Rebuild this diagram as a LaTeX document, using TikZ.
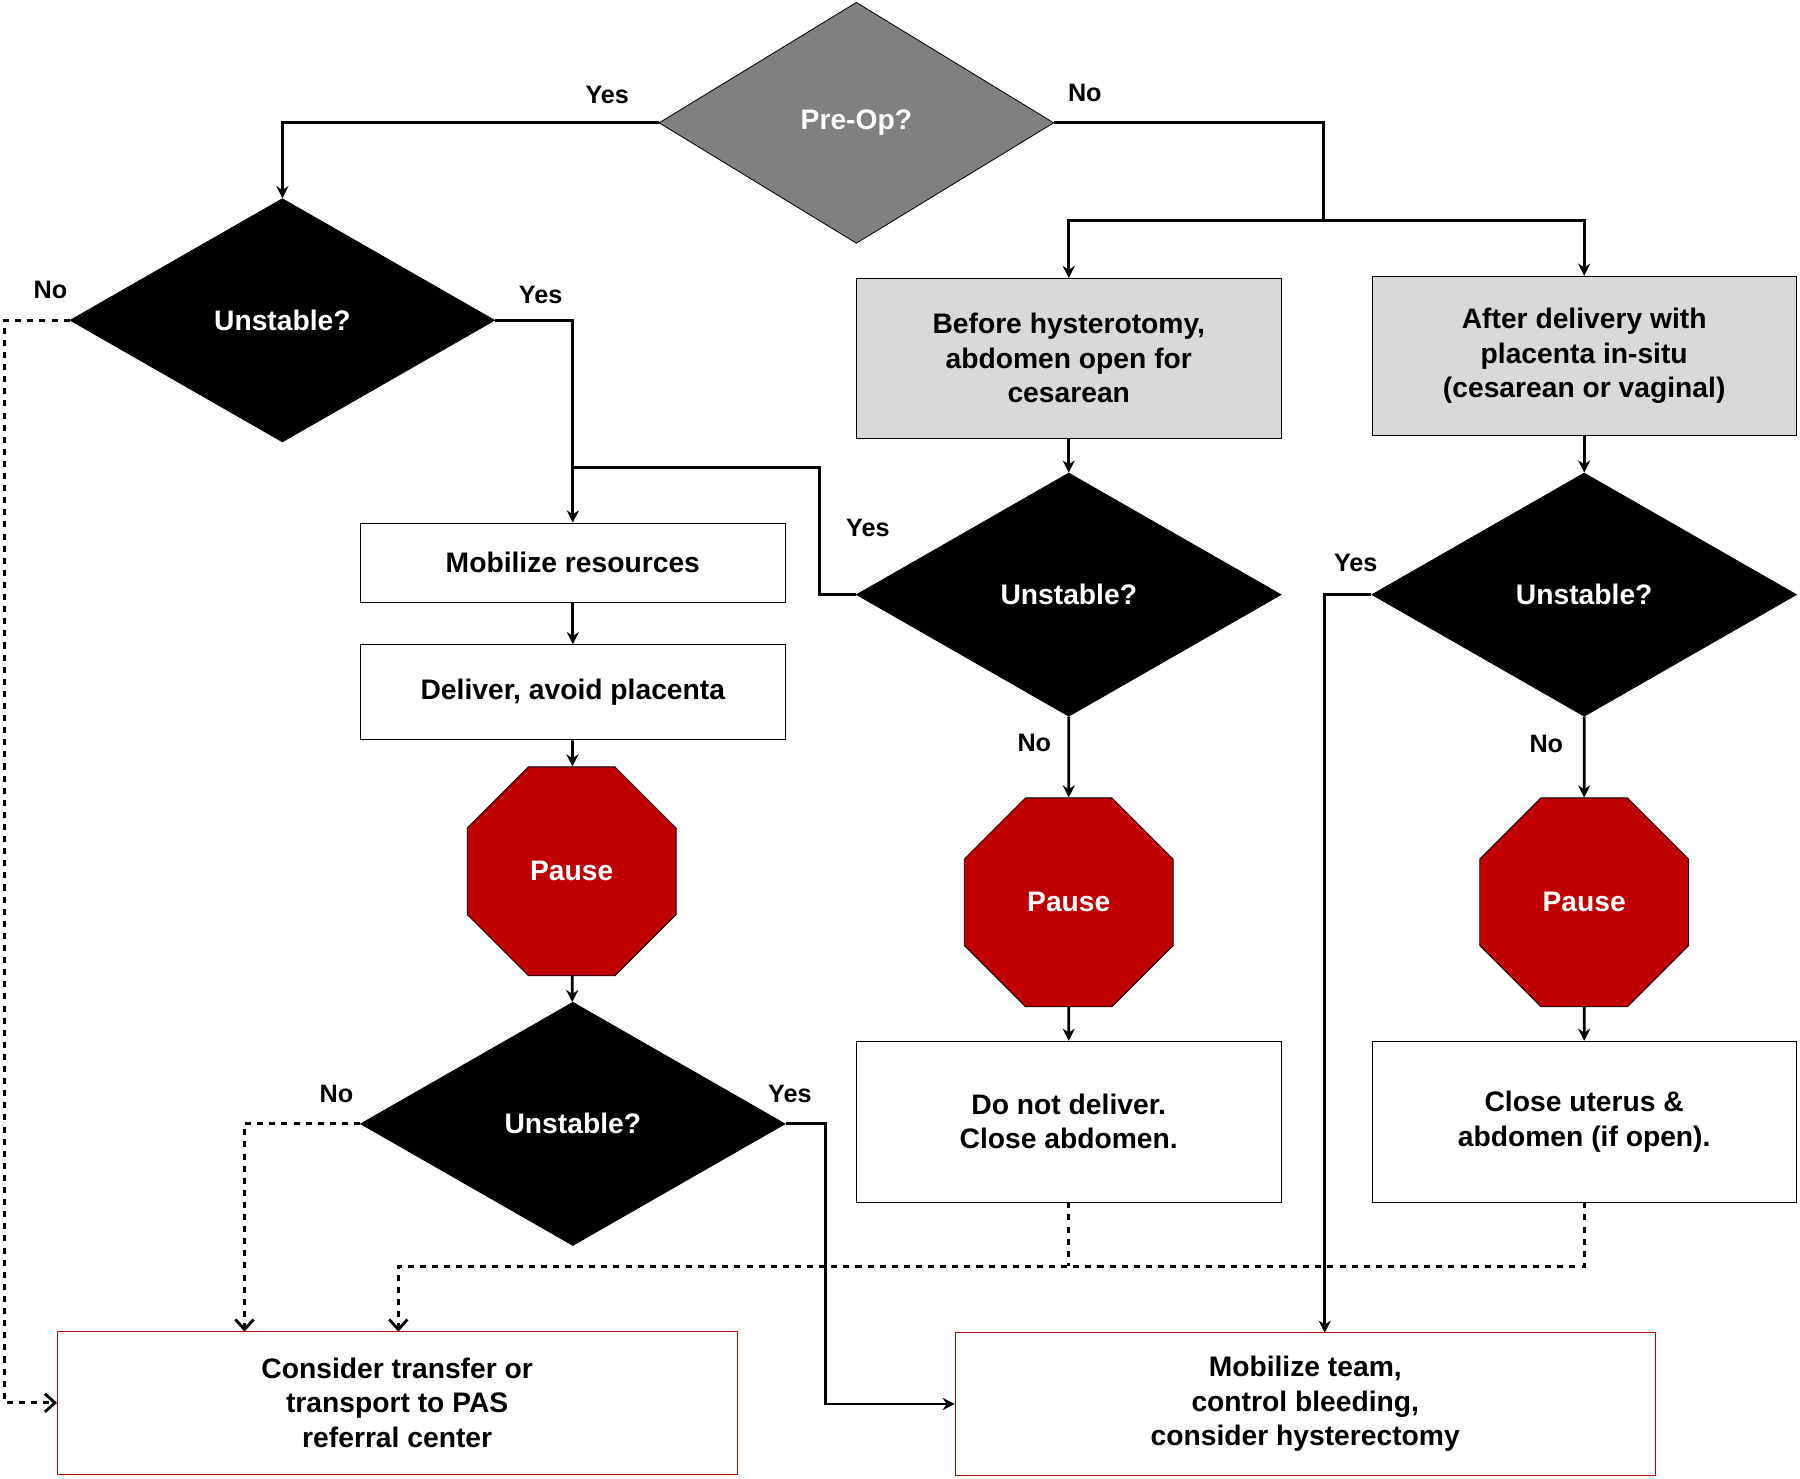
\documentclass[tikz,border=0pt]{standalone}
\usepackage{fontspec}
\setmainfont{Liberation Sans}
\usetikzlibrary{shapes.geometric,arrows.meta}
\definecolor{pauseRed}{HTML}{C00000}
\definecolor{boxGray}{HTML}{D9D9D9}
\definecolor{preGray}{HTML}{808080}
\begin{document}
\begin{tikzpicture}[
        x=0.02cm, y=-0.02cm,
        every node/.style={font=\fontsize{14}{17}\selectfont\bfseries, align=center},
        decision/.style={draw, diamond, fill=black, text=white, inner sep=0pt, minimum width=7.4cm, minimum height=4.24cm},
        action/.style={draw, rectangle, fill=white, inner sep=0pt},
        stop/.style={draw, regular polygon, regular polygon sides=8, fill=pauseRed, text=white, minimum size=3.94cm, inner sep=0pt},
        target/.style={draw=pauseRed, rectangle, inner sep=0pt, minimum height=2.5cm},
        answer/.style={font=\fontsize{12.5}{15}\selectfont\bfseries},
        line/.style={line width=1.4pt, -{Stealth[length=6pt,width=6pt]}},
        maybe/.style={line width=1.4pt, dashed, -{Straight Barb[length=5pt,width=9pt]}}
    ]
    \useasboundingbox (0,0) rectangle (1568,1288);
    % Decisions
    \node[decision, fill=preGray, minimum width=6.88cm, minimum height=4.2cm] (preop) at (746,107) {Pre-Op?};
    \node[decision] (unstA) at (246,279) {Unstable?};
    \node[decision] (unstB) at (931,518) {Unstable?};
    \node[decision] (unstC) at (1380,518) {Unstable?};
    \node[decision] (unstD) at (499,979) {Unstable?};
    % Situations
    \node[action, fill=boxGray, minimum width=7.4cm, minimum height=2.78cm] (before) at (931,312) {Before hysterotomy,\\abdomen open for\\cesarean};
    \node[action, fill=boxGray, minimum width=7.38cm, minimum height=2.78cm] (after) at (1380,310) {After delivery with\\placenta in-situ\\(cesarean or vaginal)};
    % Steps
    \node[action, minimum width=7.4cm, minimum height=1.38cm] (mobres) at (499,490) {Mobilize resources};
    \node[action, minimum width=7.4cm, minimum height=1.66cm] (deliver) at (499,603) {Deliver, avoid placenta};
    \node[stop] (pauseA) at (498,759) {Pause};
    \node[stop] (pauseB) at (931,786) {Pause};
    \node[stop] (pauseC) at (1380,786) {Pause};
    \node[action, minimum width=7.4cm, minimum height=2.8cm] (nodeliver) at (931,977) {Do not deliver.\\Close abdomen.};
    \node[action, minimum width=7.38cm, minimum height=2.8cm] (closeut) at (1380,977) {Close uterus \&\\abdomen (if open).};
    % Outcomes
    \node[target, minimum width=11.84cm] (transfer) at (346,1222) {Consider transfer or\\transport to PAS\\referral center};
    \node[target, minimum width=12.2cm] (team) at (1137,1223) {Mobilize team,\\control bleeding,\\consider hysterectomy};
    % Connectors
    \draw[line] (preop.west) -| (unstA.north);
    \draw[line] (preop.east) -| (1153,192) -| (before.north);
    \draw[line] (1153,192) -| (after.north);
    \draw[line] (unstA.east) -| (mobres.north);
    \draw[line width=1.4pt] (unstB.west) -| (714,407) -- (498,407);
    \draw[maybe] (unstA.west) -| (4,1222) -- (transfer.west);
    \draw[line] (mobres) -- (deliver);
    \draw[line] (deliver) -- (pauseA);
    \draw[line] (pauseA) -- (unstD);
    \draw[maybe] (unstD.west) -| (213,1160);
    \draw[line] (unstD.east) -| (719,1223) -- (team.west);
    \draw[line] (before) -- (unstB);
    \draw[line] (unstB) -- (pauseB);
    \draw[line] (pauseB) -- (nodeliver);
    \draw[line] (after) -- (unstC);
    \draw[line] (unstC) -- (pauseC);
    \draw[line] (pauseC) -- (closeut);
    \draw[line] (unstC.west) -| (1154,1161);
    \draw[line width=1.4pt, dashed] (nodeliver.south) -- (931,1103);
    \draw[maybe] (closeut.south) |- (347,1103) -- (347,1160);
    % Labels
    \node[answer] at (529,83) {Yes};
    \node[answer] at (945,81) {No};
    \node[answer] at (44,253) {No};
    \node[answer] at (471,257) {Yes};
    \node[answer] at (756,460) {Yes};
    \node[answer] at (901,647) {No};
    \node[answer] at (1181,490) {Yes};
    \node[answer] at (1347,648) {No};
    \node[answer] at (293,953) {No};
    \node[answer] at (688,953) {Yes};
\end{tikzpicture}
\end{document}
